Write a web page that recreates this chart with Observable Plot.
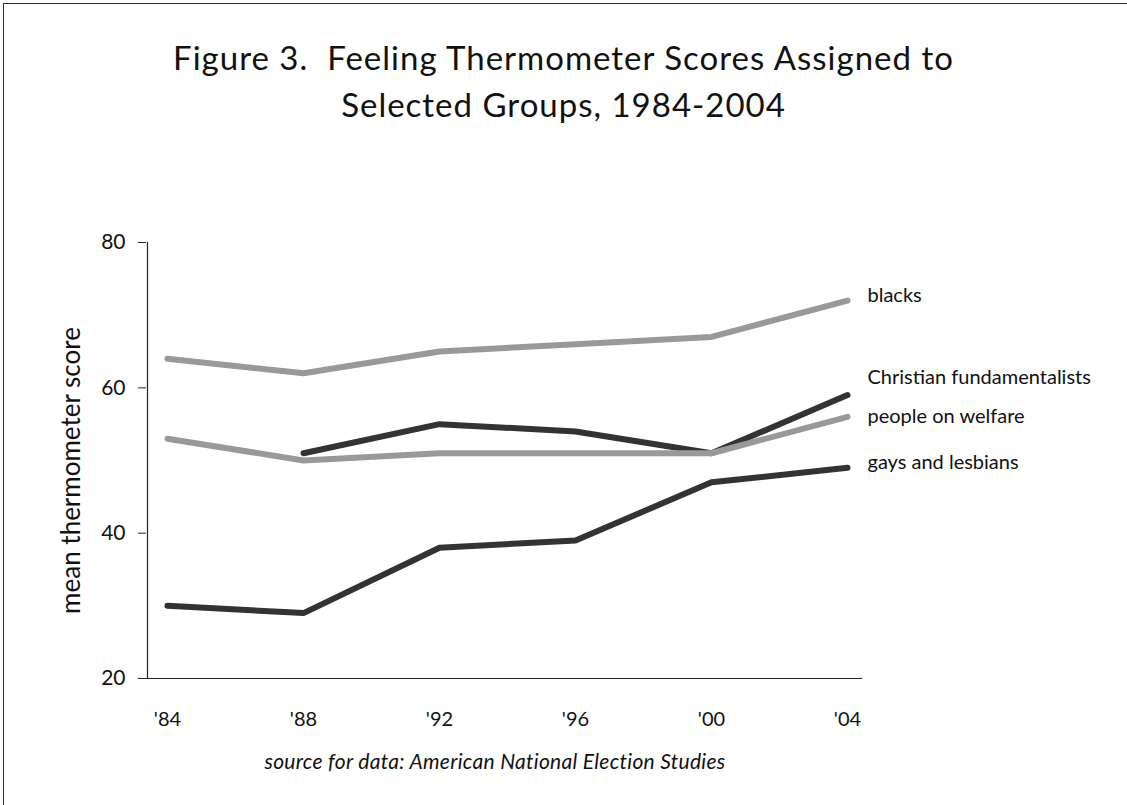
<!DOCTYPE html>
<html>
<head>
<meta charset="utf-8">
<script src="https://cdn.jsdelivr.net/npm/d3@7"></script>
<script src="https://cdn.jsdelivr.net/npm/@observablehq/plot@0.6"></script>
<style>
  html, body { margin: 0; padding: 0; background: #fff; }
  body { width: 1127px; height: 805px; position: relative; overflow: hidden; font-family: Lato, "Open Sans", sans-serif; color: #111; }
  #frame { position: absolute; left: 3px; top: 3px; width: 1140px; height: 820px; border-left: 1.5px solid #333; border-top: 1.5px solid #333; }
  #title { position: absolute; left: 0; top: 34px; width: 1127px; text-align: center; font-size: 33px; line-height: 47px; white-space: pre; letter-spacing: 1px; }
  #chart { position: absolute; left: 0; top: 150px; }
  #caption { position: absolute; left: 0; top: 748px; width: 990px; text-align: center; font-size: 21px; font-style: italic; letter-spacing: 0.3px; }
</style>
</head>
<body>
<div id="frame"></div>
<div id="title">Figure 3.  Feeling Thermometer Scores Assigned to
Selected Groups, 1984-2004</div>
<div id="chart"></div>
<div id="caption">source for data: American National Election Studies</div>
<script>
const years = ["'84", "'88", "'92", "'96", "'00", "'04"];
const blacks = [64, 62, 65, 66, 67, 72];
const christianFundamentalists = [null, 51, 55, 54, 51, 59];
const peopleOnWelfare = [53, 50, 51, 51, 51, 56];
const gaysAndLesbians = [30, 29, 38, 39, 47, 49];
const seriesNames = ["blacks", "Christian fundamentalists", "people on welfare", "gays and lesbians"];
const seriesValues = [blacks, christianFundamentalists, peopleOnWelfare, gaysAndLesbians];
const yTicks = [20, 40, 60, 80];

const light = "#999999", dark = "#333333";
const colors = {"blacks": light, "Christian fundamentalists": dark, "people on welfare": light, "gays and lesbians": dark};
const labelDy = {"blacks": -5, "Christian fundamentalists": -18, "people on welfare": 0, "gays and lesbians": -5};

const rows = [];
seriesNames.forEach((name, i) => {
  seriesValues[i].forEach((v, j) => rows.push({series: name, year: years[j], value: v}));
});

const marks = [
  Plot.ruleY([20], {stroke: "#222", strokeWidth: 1.2}),
  Plot.axisY({ticks: yTicks, tickSize: 8, tickPadding: 13, fontSize: 21, label: null, stroke: "#222"}),
  Plot.axisX({tickSize: 0, tickPadding: 33, fontSize: 20, label: null}),
  Plot.ruleX([years[0]], {y1: 20, y2: 80, stroke: "#222", strokeWidth: 1.2, dx: -20}),
  Plot.text(["mean thermometer score"], {frameAnchor: "left", textAnchor: "middle", rotate: -90, dx: -75, dy: 10, fontSize: 26, fill: "#111"})
];
for (const name of seriesNames) {
  const d = rows.filter(r => r.series === name);
  marks.push(Plot.line(d, {x: "year", y: "value", stroke: colors[name], strokeWidth: 6, strokeLinejoin: "miter", strokeLinecap: "round"}));
  const last = d[d.length - 1];
  marks.push(Plot.text([last], {x: "year", y: "value", text: () => name, textAnchor: "start", dx: 20, dy: labelDy[name], fontSize: 20, fill: "#111"}));
}

const chart = Plot.plot({
  width: 1127,
  height: 600,
  marginLeft: 146,
  marginRight: 265,
  marginTop: 92,
  marginBottom: 72,
  style: {fontFamily: "Lato, 'Open Sans', sans-serif", color: "#111", background: "transparent", overflow: "visible"},
  x: {type: "point", domain: years, range: [166, 847], padding: 0},
  y: {domain: [20, 80]},
  marks
});
document.getElementById("chart").appendChild(chart);
</script>
</body>
</html>
